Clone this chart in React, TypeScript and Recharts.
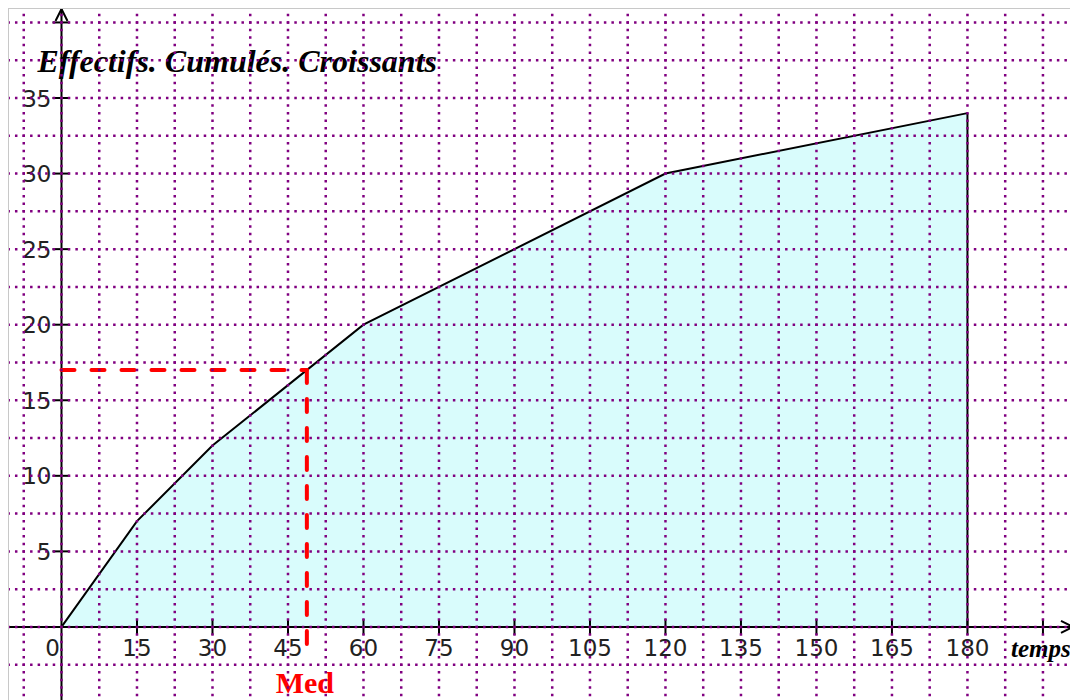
import React from "react";
import { ComposedChart, Area, XAxis, YAxis, ReferenceLine, ReferenceDot } from "recharts";

// ---- data ----
const timeValues = [0, 15, 30, 60, 120, 180];
const cumulativeCounts = [0, 7, 12, 20, 30, 34];

const xTickValues = [0, 15, 30, 45, 60, 75, 90, 105, 120, 135, 150, 165, 180, 195];
const xTickLabels = ["0", "15", "30", "45", "60", "75", "90", "105", "120", "135", "150", "165", "180", ""];
const yTickValues = [5, 10, 15, 20, 25, 30, 35, 40];
const yTickLabels = ["5", "10", "15", "20", "25", "30", "35", ""];

const gridX = [-7.5, 0, 7.5, 15, 22.5, 30, 37.5, 45, 52.5, 60, 67.5, 75, 82.5, 90, 97.5, 105, 112.5, 120, 127.5, 135, 142.5, 150, 157.5, 165, 172.5, 180, 187.5, 195];
const gridY = [-2.5, 0, 2.5, 5, 7.5, 10, 12.5, 15, 17.5, 20, 22.5, 25, 27.5, 30, 32.5, 35, 37.5, 40];

const MEDIAN_TIME = 48.75;
const MEDIAN_COUNT = 17;
const MEDIAN_DROP = -1.5;

const TITLE = "Effectifs. Cumulés. Croissants";
const X_NAME = "temps";
const MED_NAME = "Med";

// ---- layout ----
const W = 1064;
const H = 700;
const X_DOMAIN: [number, number] = [-10.43, 200.97];
const Y_DOMAIN: [number, number] = [-5.43, 40.89];

const data = timeValues.map((t, i) => ({ t, count: cumulativeCounts[i] }));

const GRID_COLOR = "#800080";
const FILL = "#d9fcfc";
const RED = "#ff0000";
const TICK_FONT = "'DejaVu Sans', sans-serif";
const SERIF = "'Liberation Serif', 'Times New Roman', serif";

const ArrowLine = (p: any) => {
  const { x1, y1, x2, y2 } = p;
  const ang = Math.atan2(y2 - y1, x2 - x1);
  const L = 12;
  const hw = 6;
  const bx = x2 - L * Math.cos(ang);
  const by = y2 - L * Math.sin(ang);
  const nx = -Math.sin(ang) * hw;
  const ny = Math.cos(ang) * hw;
  return (
    <g>
      <line x1={x1} y1={y1} x2={x2} y2={y2} stroke="#000" strokeWidth={2} />
      <polyline
        points={`${bx + nx},${by + ny} ${x2},${y2} ${bx - nx},${by - ny}`}
        fill="none"
        stroke="#000"
        strokeWidth={2}
      />
    </g>
  );
};

const makeXTick = (label: string, isOrigin: boolean) => (p: any) => {
  const { cx, cy } = p;
  return (
    <g>
      {!isOrigin && <line x1={cx} y1={cy - 8} x2={cx} y2={cy + 8} stroke="#000" strokeWidth={2} />}
      <text
        x={isOrigin ? cx - 9 : cx}
        y={cy + 29}
        textAnchor="middle"
        fontFamily={TICK_FONT}
        fontSize={23}
        fill="#222"
      >
        {label}
      </text>
    </g>
  );
};

const makeYTick = (label: string) => (p: any) => {
  const { cx, cy } = p;
  return (
    <g>
      <line x1={cx - 9} y1={cy} x2={cx + 8} y2={cy} stroke="#000" strokeWidth={2} />
      <text x={cx - 10} y={cy + 8.5} textAnchor="end" fontFamily={TICK_FONT} fontSize={23} fill="#222">
        {label}
      </text>
    </g>
  );
};

const TitleShape = (p: any) => (
  <text
    x={p.cx - 24}
    y={p.cy + 50}
    fontFamily={SERIF}
    fontWeight="bold"
    fontStyle="italic"
    fontSize={32}
    fill="#000"
  >
    {TITLE}
  </text>
);

const MedShape = (p: any) => (
  <text x={p.cx - 2} y={p.cy + 66} textAnchor="middle" fontFamily={SERIF} fontWeight="bold" fontSize={30} fill={RED}>
    {MED_NAME}
  </text>
);

const TempsShape = (p: any) => (
  <text
    x={p.cx - 2}
    y={p.cy + 30}
    textAnchor="middle"
    fontFamily={SERIF}
    fontWeight="bold"
    fontStyle="italic"
    fontSize={25}
    fill="#000"
  >
    {X_NAME}
  </text>
);

export default function App() {
  const lastT = timeValues[timeValues.length - 1];
  const lastC = cumulativeCounts[cumulativeCounts.length - 1];
  return (
    <div style={{ border: "1px solid #c8c8c8", width: W, height: H, background: "#fff" }}>
      <ComposedChart width={W} height={H} data={data} margin={{ top: 0, right: 0, bottom: 0, left: 0 }}>
        <XAxis type="number" dataKey="t" domain={X_DOMAIN} allowDataOverflow hide />
        <YAxis type="number" domain={Y_DOMAIN} allowDataOverflow hide />

        <Area
          type="linear"
          dataKey="count"
          stroke="#000"
          strokeWidth={2}
          fill={FILL}
          fillOpacity={1}
          baseValue={0}
          dot={false}
          activeDot={false}
          isAnimationActive={false}
        />

        <ReferenceLine
          segment={[{ x: lastT, y: 0 }, { x: lastT, y: lastC }]}
          stroke="#000"
          strokeWidth={2}
          ifOverflow="visible"
          zIndex={450}
        />

        <ReferenceDot x={0} y={40} r={0} ifOverflow="visible" shape={TitleShape} zIndex={150} />

        <ReferenceLine
          segment={[{ x: X_DOMAIN[0], y: 0 }, { x: X_DOMAIN[1], y: 0 }]}
          ifOverflow="visible"
          shape={ArrowLine}
          zIndex={500}
        />
        <ReferenceLine
          segment={[{ x: 0, y: Y_DOMAIN[0] }, { x: 0, y: Y_DOMAIN[1] }]}
          ifOverflow="visible"
          shape={ArrowLine}
          zIndex={500}
        />

        {xTickValues.map((v, i) => (
          <ReferenceDot
            key={"xt" + v}
            x={v}
            y={0}
            r={0}
            ifOverflow="visible"
            shape={makeXTick(xTickLabels[i], v === 0)}
            zIndex={600}
          />
        ))}
        {yTickValues.map((v, i) => (
          <ReferenceDot
            key={"yt" + v}
            x={0}
            y={v}
            r={0}
            ifOverflow="visible"
            shape={makeYTick(yTickLabels[i])}
            zIndex={600}
          />
        ))}

        <ReferenceLine
          segment={[{ x: 0, y: MEDIAN_COUNT }, { x: MEDIAN_TIME, y: MEDIAN_COUNT }]}
          stroke={RED}
          strokeWidth={4}
          strokeDasharray="13 17"
          strokeLinecap="round"
          ifOverflow="visible"
          zIndex={700}
        />
        <ReferenceLine
          segment={[{ x: MEDIAN_TIME, y: MEDIAN_COUNT }, { x: MEDIAN_TIME, y: MEDIAN_DROP }]}
          stroke={RED}
          strokeWidth={4}
          strokeDasharray="13 16"
          strokeLinecap="round"
          ifOverflow="visible"
          zIndex={700}
        />
        <ReferenceDot x={MEDIAN_TIME} y={0} r={0} ifOverflow="visible" shape={MedShape} zIndex={700} />
        <ReferenceDot x={195} y={0} r={0} ifOverflow="visible" shape={TempsShape} zIndex={700} />

        {gridX.map((v) => (
          <ReferenceLine
            key={"gx" + v}
            segment={[{ x: v, y: Y_DOMAIN[1] }, { x: v, y: Y_DOMAIN[0] }]}
            stroke={GRID_COLOR}
            strokeWidth={2.5}
            strokeDasharray="2.5 5.057"
            strokeDashoffset={2.92}
            ifOverflow="visible"
            zIndex={3000}
          />
        ))}
        {gridY.map((v) => (
          <ReferenceLine
            key={"gy" + v}
            segment={[{ x: X_DOMAIN[0], y: v }, { x: X_DOMAIN[1], y: v }]}
            stroke={GRID_COLOR}
            strokeWidth={2.5}
            strokeDasharray="2.5 5.05"
            strokeDashoffset={1.59}
            ifOverflow="visible"
            zIndex={3000}
          />
        ))}
      </ComposedChart>
    </div>
  );
}
